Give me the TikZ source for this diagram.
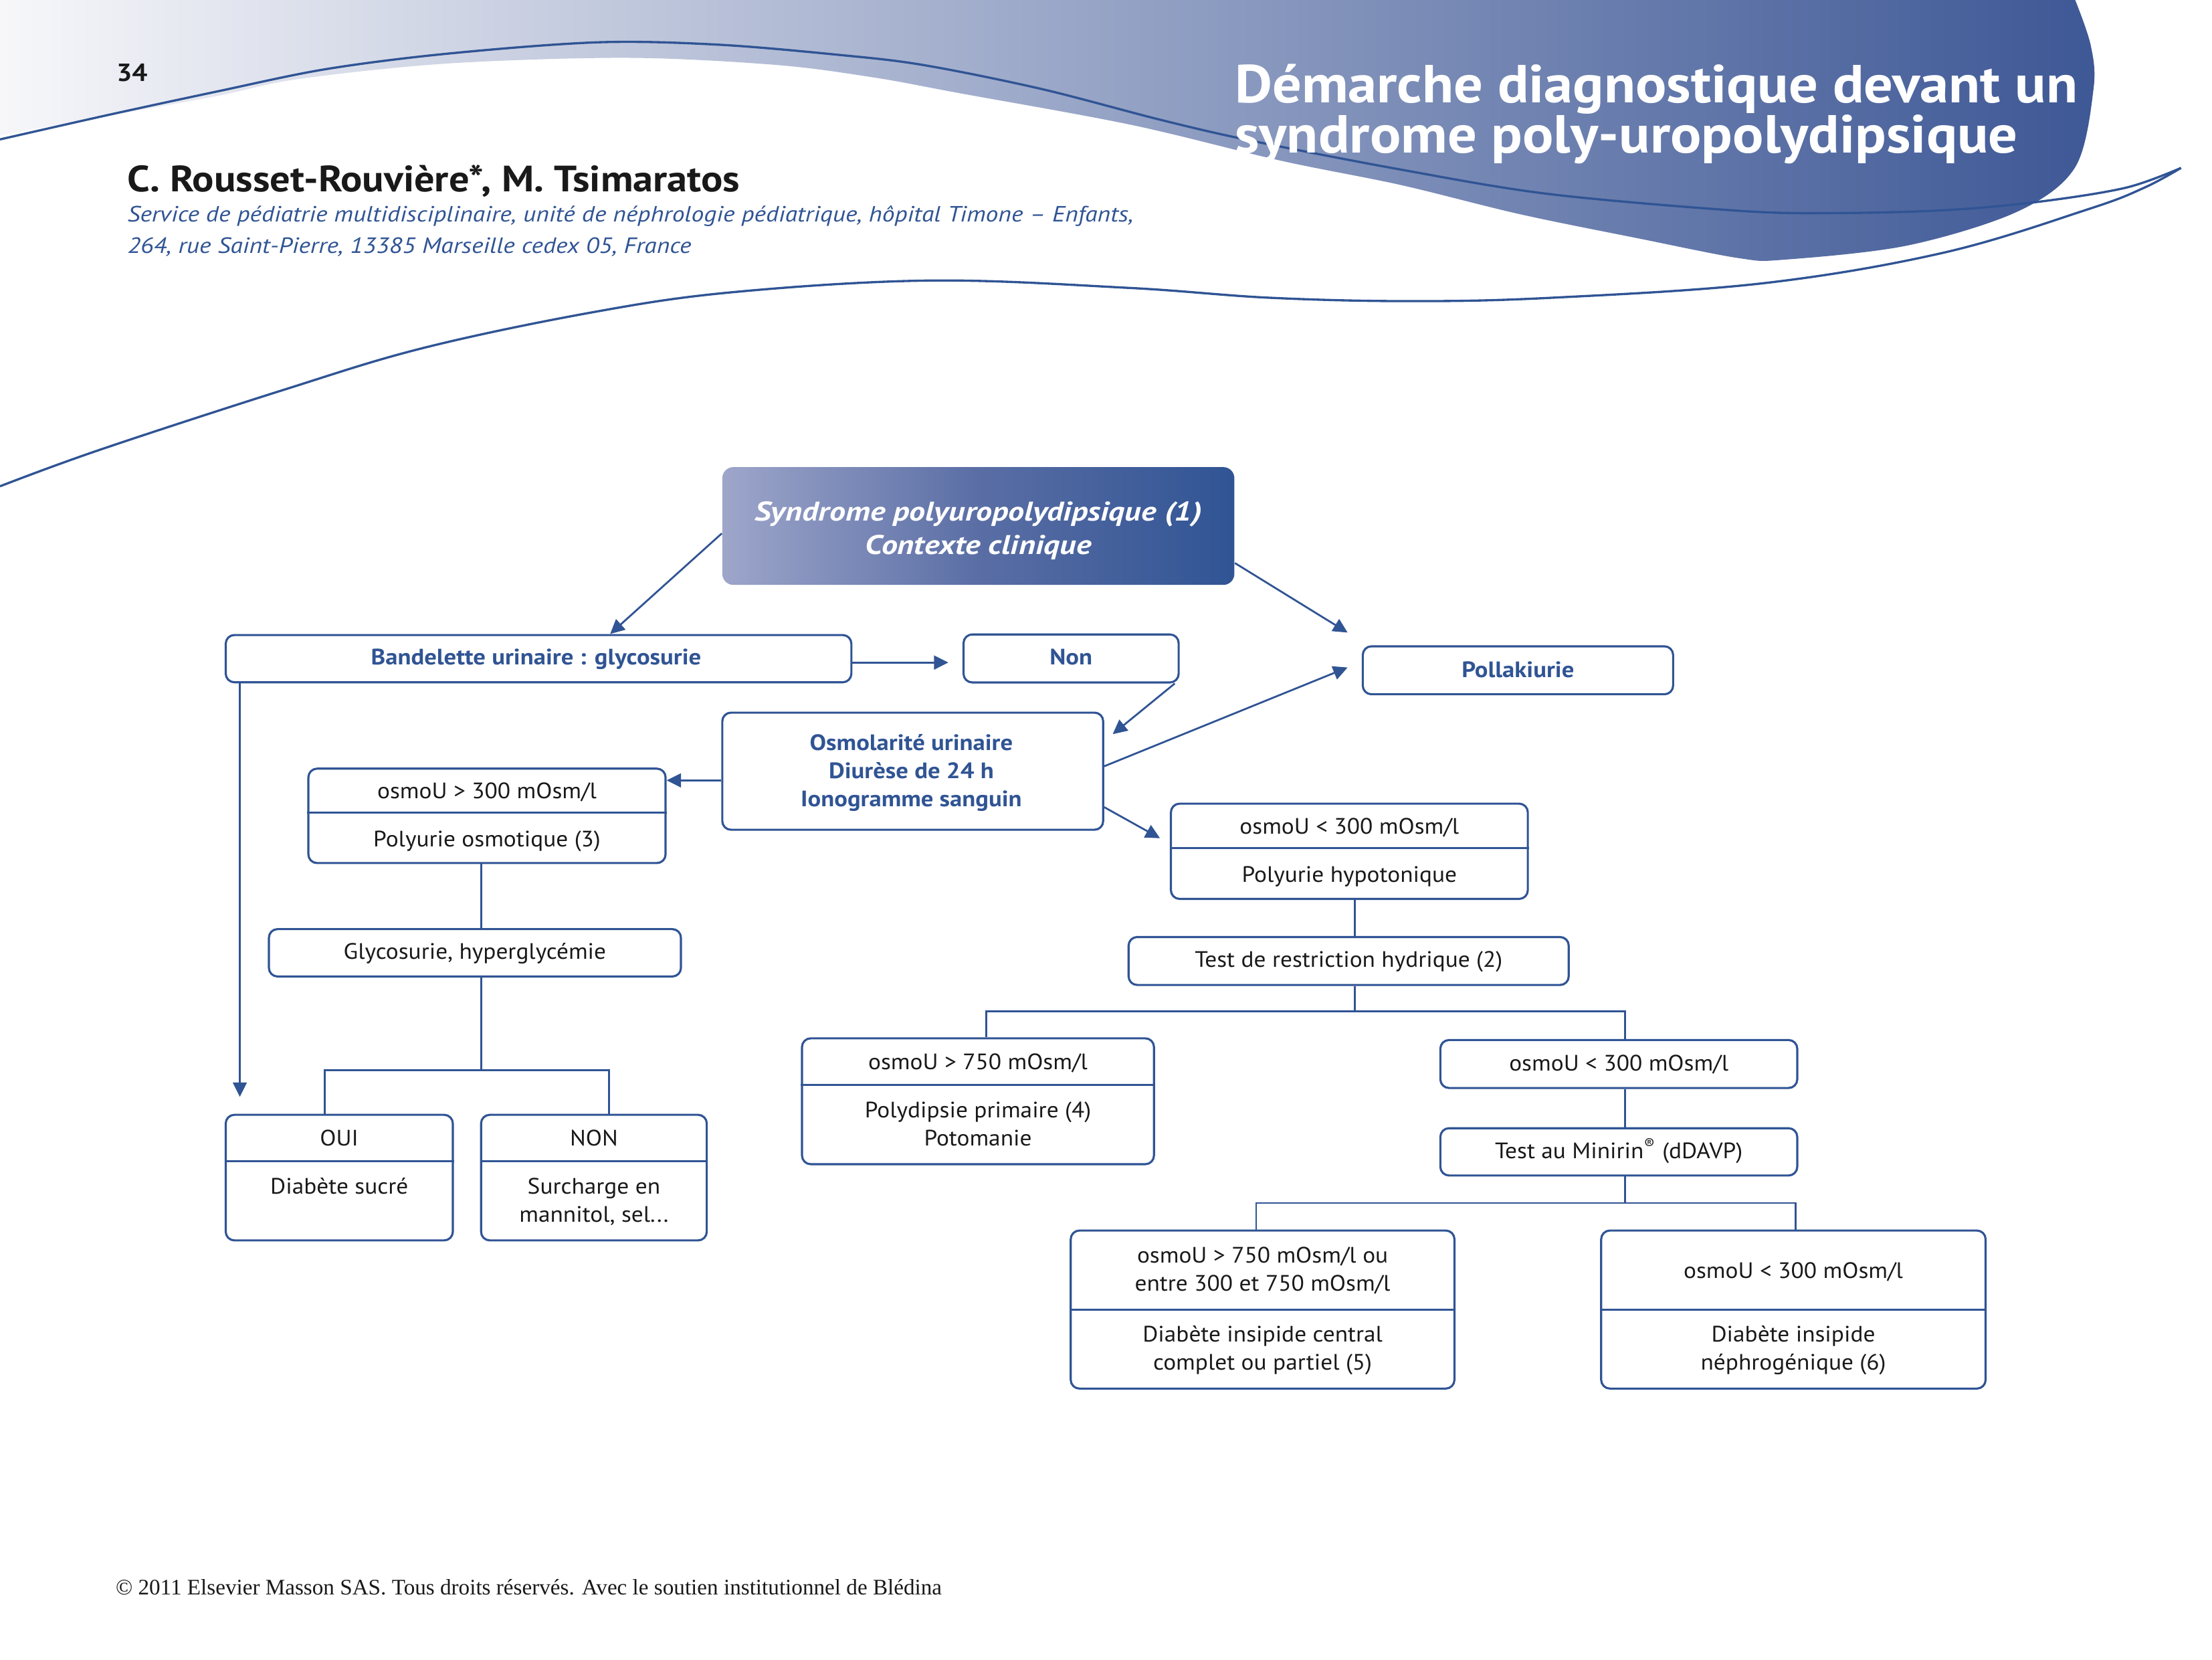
\documentclass[tikz,border=0pt]{standalone}
\usepackage{fontspec}
\setmainfont{PT Sans}
\newfontfamily\footfont{Liberation Serif}
\newfontfamily\fnode{PT Sans}[FakeStretch=1.06]
\newfontfamily\fnodeb{PT Sans}[FakeStretch=1.10]
\newfontfamily\ftopb{PT Sans}[FakeStretch=1.19]
\newfontfamily\faff{PT Sans}[FakeStretch=1.14]
\newfontfamily\fauth{PT Sans}[FakeStretch=1.10]
\newfontfamily\ftitle{PT Sans}[FakeStretch=1.08]
\usetikzlibrary{arrows.meta,fit,calc}
\definecolor{dblue}{RGB}{48,84,148}
\definecolor{hblue}{RGB}{62,88,150}
\definecolor{lblue}{RGB}{158,166,202}
\definecolor{mblue}{RGB}{90,110,165}
\definecolor{hwhite}{RGB}{247,247,250}
\definecolor{ink}{RGB}{25,25,25}
\begin{document}
\begin{tikzpicture}[x=0.02cm,y=-0.02cm,
  box/.style={draw=dblue, line width=0.85pt, rounded corners=3.5pt, fill=white, inner sep=0pt},
  divline/.style={draw=dblue, line width=0.85pt},
  conn/.style={draw=dblue, line width=0.75pt},
  arr/.style={conn, -{Triangle[length=5.8pt,width=5.6pt]}},
  txt/.style={anchor=base, inner sep=0pt, text=ink, font=\fnode\fontsize{9}{11}\selectfont},
  btxt/.style={anchor=base, inner sep=0pt, text=dblue, font=\fnodeb\fontsize{9}{11}\selectfont\bfseries},
  wave/.style={draw=dblue, line width=0.9pt}]

\useasboundingbox (0,0) rectangle (1568,1176);

% ---------- header ----------
\shade[left color=hwhite, right color=hblue]
  (0,0) -- plot[smooth, tension=0.55] coordinates {(1471,0) (1482,32) (1484,63) (1471,118.5) (1430,150) (1352,174) (1265,184) (1233,183) (1161.7,169) (1077,151.7) (992.5,131) (907.6,113.8) (802,88.5) (680,66) (620,55) (550,46) (444.5,41) (317.5,45) (211.6,56) (154,68) (77,82) (0,96)} -- cycle;

\draw[wave] plot[smooth, tension=0.55] coordinates {(0,98.8) (77,81.4) (154,64.8) (231,49) (317.5,38) (423.4,30) (508,31.6) (592.7,38.7) (654,46) (738,63) (823,85) (886,99.5) (992,120) (1098,137.5) (1233,149.4) (1300,151) (1378,149) (1445,143) (1507,133) (1546,119)};

\draw[wave] plot[smooth, tension=0.6] coordinates {(1546,119) (1520,133) (1481,148) (1378,179) (1250,200.7) (1100,211) (1000,213.4) (900,211) (800,204) (660,198.8) (520,207) (420,221.3) (300,246.6) (200,276.6) (70,319) (0,344.6)};

\node[anchor=base west, inner sep=0pt, text=white, font=\ftitle\fontsize{21.6}{25}\selectfont\bfseries] (title1) at (875,72.7) {Démarche diagnostique devant un};
\node[anchor=base west, inner sep=0pt, text=white, font=\ftitle\fontsize{21.6}{25}\selectfont\bfseries] (title2) at (875,108.3) {syndrome poly-uropolydipsique};

\node[anchor=base west, inner sep=0pt, text=ink, font=\fauth\fontsize{10}{12}\selectfont\bfseries] (page) at (82.3,57.7) {34};
\node[anchor=base west, inner sep=0pt, text=ink, font=\fauth\fontsize{14.8}{17}\selectfont\bfseries] (authors) at (90,136) {C. Rousset-Rouvière*, M. Tsimaratos};
\node[anchor=base west, inner sep=0pt, text=dblue, font=\faff\fontsize{8.9}{11}\selectfont\itshape] (aff1) at (90,157) {Service de pédiatrie multidisciplinaire, unité de néphrologie pédiatrique, hôpital Timone – Enfants,};
\node[anchor=base west, inner sep=0pt, text=dblue, font=\faff\fontsize{8.9}{11}\selectfont\itshape] (aff2) at (90,179.4) {264, rue Saint-Pierre, 13385 Marseille cedex 05, France};

\node[anchor=base west, inner sep=0pt, text=ink, font=\footfont\fontsize{8.95}{10}\selectfont] (foot) at (81.7,1130) {© 2011 Elsevier Masson SAS. Tous droits réservés. Avec le soutien institutionnel de Blédina};

% ---------- boxes ----------
\node[fit={(512,331) (875,414.5)}, inner sep=0pt, rounded corners=4.5pt, left color=lblue, right color=dblue, middle color=mblue] (top) {};
\node[anchor=base, inner sep=0pt, text=white, font=\ftopb\fontsize{10.9}{13}\selectfont\bfseries\itshape] (topt1) at (693.5,369) {Syndrome polyuropolydipsique (1)};
\node[anchor=base, inner sep=0pt, text=white, font=\ftopb\fontsize{10.9}{13}\selectfont\bfseries\itshape] (topt2) at (693.5,392.7) {Contexte clinique};

\node[box, fit={(160,450) (603.5,483.5)}] (band) {};
\node[btxt] (bandt) at (380,471) {Bandelette urinaire : glycosurie};

\node[box, fit={(683,449.6) (835.5,483.6)}] (non) {};
\node[btxt] (nont) at (759.2,471) {Non};

\node[box, fit={(966,458) (1186,492)}] (pol) {};
\node[btxt] (polt) at (1076,480) {Pollakiurie};

\node[box, fit={(512,505) (782,588)}] (osm) {};
\node[btxt] (osmt1) at (646,531.9) {Osmolarité urinaire};
\node[btxt] (osmt2) at (646,551.9) {Diurèse de 24 h};
\node[btxt] (osmt3) at (646,571.4) {Ionogramme sanguin};

\node[box, fit={(218.6,544.7) (471.8,611.6)}] (o300) {};
\draw[divline] (o300.west |- 0,575.8) -- (o300.east |- 0,575.8);
\node[txt] (o300t1) at (345.2,566) {osmoU > 300 mOsm/l};
\node[txt] (o300t2) at (345.2,600.1) {Polyurie osmotique (3)};

\node[box, fit={(190.6,658.4) (482.7,692)}] (gly) {};
\node[txt] (glyt) at (336.6,679.8) {Glycosurie, hyperglycémie};

\node[box, fit={(160,790) (321,879)}] (oui) {};
\draw[divline] (oui.west |- 0,823) -- (oui.east |- 0,823);
\node[txt] (ouit1) at (240.5,812) {OUI};
\node[txt] (ouit2) at (240.5,846) {Diabète sucré};

\node[box, fit={(341,790) (501,879)}] (nonb) {};
\draw[divline] (nonb.west |- 0,823) -- (nonb.east |- 0,823);
\node[txt] (nonbt1) at (421,812) {NON};
\node[txt] (nonbt2) at (421,846) {Surcharge en};
\node[txt] (nonbt3) at (421,866) {mannitol, sel...};

\node[box, fit={(830,569.5) (1083,637)}] (hyp) {};
\draw[divline] (hyp.west |- 0,601) -- (hyp.east |- 0,601);
\node[txt] (hypt1) at (956.5,590.8) {osmoU < 300 mOsm/l};
\node[txt] (hypt2) at (956.5,625) {Polyurie hypotonique};

\node[box, fit={(800,664) (1112,698)}] (restr) {};
\node[txt] (restrt) at (956,685.5) {Test de restriction hydrique (2)};

\node[box, fit={(568.5,735.8) (818,825)}] (o750) {};
\draw[divline] (o750.west |- 0,769) -- (o750.east |- 0,769);
\node[txt] (o750t1) at (693.2,758) {osmoU > 750 mOsm/l};
\node[txt] (o750t2) at (693.2,792) {Polydipsie primaire (4)};
\node[txt] (o750t3) at (693.2,812) {Potomanie};

\node[box, fit={(1021,737) (1274,771)}] (o300b) {};
\node[txt] (o300bt) at (1147.5,759) {osmoU < 300 mOsm/l};

\node[box, fit={(1021,799.5) (1274,833)}] (mini) {};
\node[txt] (minit) at (1147.5,821) {Test au Minirin\textsuperscript{®} (dDAVP)};

\node[box, fit={(759,872) (1031,984)}] (dic) {};
\draw[divline] (dic.west |- 0,928) -- (dic.east |- 0,928);
\node[txt] (dict1) at (895,895) {osmoU > 750 mOsm/l ou};
\node[txt] (dict2) at (895,915) {entre 300 et 750 mOsm/l};
\node[txt] (dict3) at (895,951) {Diabète insipide central};
\node[txt] (dict4) at (895,971) {complet ou partiel (5)};

\node[box, fit={(1135,872) (1407.5,984)}] (din) {};
\draw[divline] (din.west |- 0,928) -- (din.east |- 0,928);
\node[txt] (dint1) at (1271.2,906) {osmoU < 300 mOsm/l};
\node[txt] (dint2) at (1271.2,951) {Diabète insipide};
\node[txt] (dint3) at (1271.2,971) {néphrogénique (6)};

% ---------- arrows ----------
\draw[arr] (top.west |- 0,378) -- (band.north -| 432.5,0);
\draw[arr] (top.east |- 0,399) -- ($(pol.north west)+(-10,-9)$);
\draw[arr] (band.east |- 0,469.5) -- ($(non.west |- 0,469.5)+(-10,0)$);
\draw[arr] ($(non.south east)+(-3.5,0)$) -- ($(osm.north east)+(6,16)$);
\draw[arr] (osm.east |- 0,543) -- ($(pol.west)+(-10,-2)$);
\draw[arr] (osm.west |- 0,553) -- (o300.east |- 0,553);
\draw[arr] (osm.east |- 0,572) -- ($(hyp.west |- 0,594)+(-7,0)$);
\draw[arr] (band.south -| 170,0) -- ($(oui.north -| 170,0)+(0,-12)$);

% ---------- tree lines ----------
\draw[conn] (o300.south -| 341,0) -- (gly.north -| 341,0);
\coordinate (j1) at (341,758.5);
\draw[conn] (gly.south -| j1) -- (j1);
\draw[conn] (oui.north -| 230.3,0) |- (j1) -| (nonb.north -| 431.8,0);

\draw[conn] (hyp.south -| 960.5,0) -- (restr.north -| 960.5,0);
\coordinate (j2) at (960.5,716.5);
\draw[conn] (restr.south -| j2) -- (j2);
\draw[conn] (o750.north -| 699,0) |- (j2) -| (o300b.north -| 1152,0);

\draw[conn] (o300b.south -| 1152,0) -- (mini.north -| 1152,0);
\coordinate (j3) at (1152,852.5);
\draw[conn] (mini.south -| j3) -- (j3);
\draw[conn] (dic.north -| 890.4,0) |- (j3) -| (din.north -| 1273,0);
\end{tikzpicture}
\end{document}
